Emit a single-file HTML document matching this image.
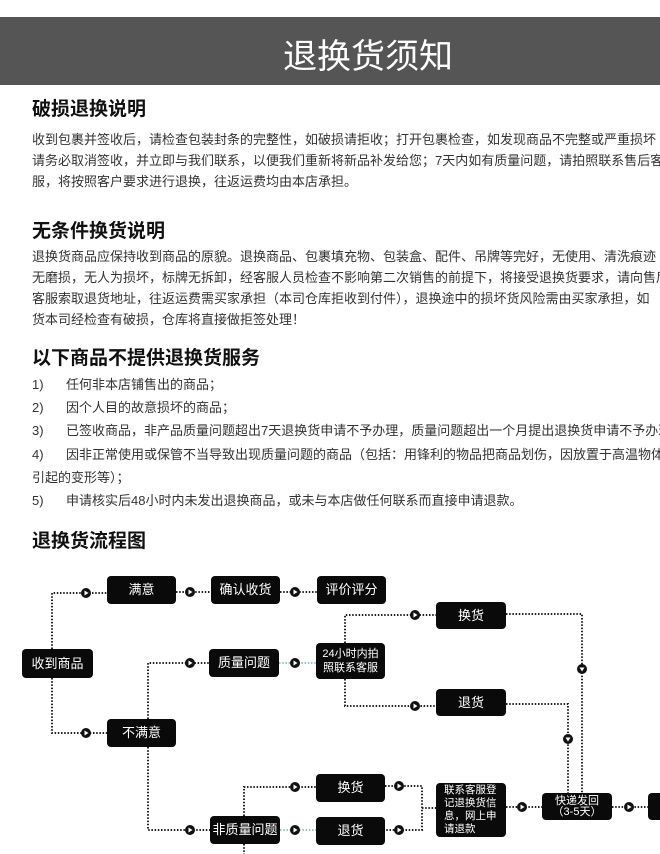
<!DOCTYPE html>
<html><head><meta charset="utf-8"><style>
body{margin:0;width:660px;height:854px;overflow:hidden;background:#fff;font-family:"Liberation Sans","Noto Sans CJK SC",sans-serif;position:relative}
.hd{position:absolute;left:0;top:17px;width:660px;height:68px;background:#555}
.hd span{position:absolute;left:283px;top:12px;font-size:34px;color:#fff;letter-spacing:0px}
.h{position:absolute;left:32px;font-size:19px;font-weight:bold;color:#111;white-space:nowrap}
.p{position:absolute;left:32px;font-size:13px;color:#333;white-space:nowrap;line-height:21px}
.b{position:absolute;background:#0a0a0a;color:#fff;border-radius:4px;font-size:13px;display:flex;align-items:center;justify-content:center;text-align:center;line-height:14px}
.n{display:inline-block;width:34px}
</style></head><body>
<div class="hd"><span>退换货须知</span></div>
<div class="h" style="top:94px">破损退换说明</div>
<div class="p" style="top:129px">收到包裹并签收后，请检查包装封条的完整性，如破损请拒收；打开包裹检查，如发现商品不完整或严重损坏<br>请务必取消签收，并立即与我们联系，以便我们重新将新品补发给您；7天内如有质量问题，请拍照联系售后客<br>服，将按照客户要求进行退换，往返运费均由本店承担。</div>
<div class="h" style="top:216px">无条件换货说明</div>
<div class="p" style="top:246px">退换货商品应保持收到商品的原貌。退换商品、包裹填充物、包装盒、配件、吊牌等完好，无使用、清洗痕迹<br>无磨损，无人为损坏，标牌无拆卸，经客服人员检查不影响第二次销售的前提下，将接受退换货要求，请向售后<br>客服索取退货地址，往返运费需买家承担（本司仓库拒收到付件），退换途中的损坏货风险需由买家承担，如<br>货本司经检查有破损，仓库将直接做拒签处理！</div>
<div class="h" style="top:343px">以下商品不提供退换货服务</div>
<div class="p" style="top:373px;line-height:23.2px"><span class="n">1)</span>任何非本店铺售出的商品；<br><span class="n">2)</span>因个人目的故意损坏的商品；<br><span class="n">3)</span>已签收商品，非产品质量问题超出7天退换货申请不予办理，质量问题超出一个月提出退换货申请不予办理；<br><span class="n">4)</span>因非正常使用或保管不当导致出现质量问题的商品（包括：用锋利的物品把商品划伤，因放置于高温物体旁<br>引起的变形等）；<br><span class="n">5)</span>申请核实后48小时内未发出退换商品，或未与本店做任何联系而直接申请退款。</div>
<div class="h" style="top:526px">退换货流程图</div>
<svg width="660" height="854" style="position:absolute;left:0;top:0">
<defs><g id="m"><circle r="5" fill="#111"/><path d="M-1.5,-2.5 L2.5,0 L-1.5,2.5Z" fill="#fff"/></g>
<g id="d"><circle r="5" fill="#111"/><path d="M-2.5,-1.5 L2.5,-1.5 L0,2.5Z" fill="#fff"/></g></defs>
<g fill="none" stroke="#222" stroke-width="2" stroke-dasharray="1.5 1.7">
<path d="M52,649 V593 H107"/><path d="M52,678 V733 H107"/>
<path d="M176,592 H211"/><path d="M280,592 H317"/>
<path d="M148,719 V663 H209"/>
<path d="M345,643 V615 H436"/><path d="M345,679 V706 H436"/>
<path d="M506,614 H582 V793"/><path d="M506,704 H568 V793"/>
<path d="M148,747 V830 H210"/>
<path d="M244,816 V787 H316"/><path d="M244,844 V854"/>
<path d="M385,786 H422 V830 H385"/><path d="M422,808 H436"/>
<path d="M506,807 H542"/><path d="M612,807 H648"/>
</g>
<g fill="none" stroke="#8bc4e0" stroke-width="2" stroke-dasharray="1.5 1.7">
<path d="M279,663 H316"/><path d="M280,830 H316"/>
</g>
<use href="#m" x="86" y="593"/><use href="#m" x="86" y="733"/>
<use href="#m" x="190" y="592"/><use href="#m" x="295" y="592"/>
<use href="#m" x="190" y="663"/><use href="#m" x="295" y="663"/>
<use href="#m" x="415" y="615"/><use href="#m" x="415" y="706"/>
<use href="#d" x="582" y="669"/><use href="#d" x="568" y="739"/>
<use href="#m" x="190" y="830"/><use href="#m" x="295" y="787"/><use href="#m" x="295" y="830"/>
<use href="#m" x="399" y="786"/><use href="#m" x="399" y="830"/>
<use href="#m" x="522" y="807"/><use href="#m" x="629" y="807"/>
</svg>
<div class="b" style="left:107px;top:576px;width:69px;height:28px">满意</div>
<div class="b" style="left:211px;top:576px;width:69px;height:28px">确认收货</div>
<div class="b" style="left:317px;top:576px;width:69px;height:28px">评价评分</div>
<div class="b" style="left:22px;top:649px;width:71px;height:29px">收到商品</div>
<div class="b" style="left:209px;top:649px;width:70px;height:28px">质量问题</div>
<div class="b" style="left:316px;top:643px;width:69px;height:36px;font-size:11px">24小时内拍<br>照联系客服</div>
<div class="b" style="left:436px;top:602px;width:70px;height:27px">换货</div>
<div class="b" style="left:436px;top:689px;width:70px;height:27px">退货</div>
<div class="b" style="left:107px;top:719px;width:69px;height:28px">不满意</div>
<div class="b" style="left:316px;top:774px;width:69px;height:28px">换货</div>
<div class="b" style="left:316px;top:817px;width:69px;height:28px">退货</div>
<div class="b" style="left:210px;top:816px;width:70px;height:28px">非质量问题</div>
<div class="b" style="left:436px;top:783px;width:70px;height:54px;font-size:10.5px;line-height:13px;text-align:left;justify-content:flex-start;padding-left:8px;box-sizing:border-box">联系客服登<br>记退换货信<br>息，网上申<br>请退款</div>
<div class="b" style="left:542px;top:793px;width:70px;height:27px;font-size:11px;line-height:11px">快递发回<br>（3-5天）</div>
<div class="b" style="left:648px;top:793px;width:30px;height:27px"></div>
</body></html>
